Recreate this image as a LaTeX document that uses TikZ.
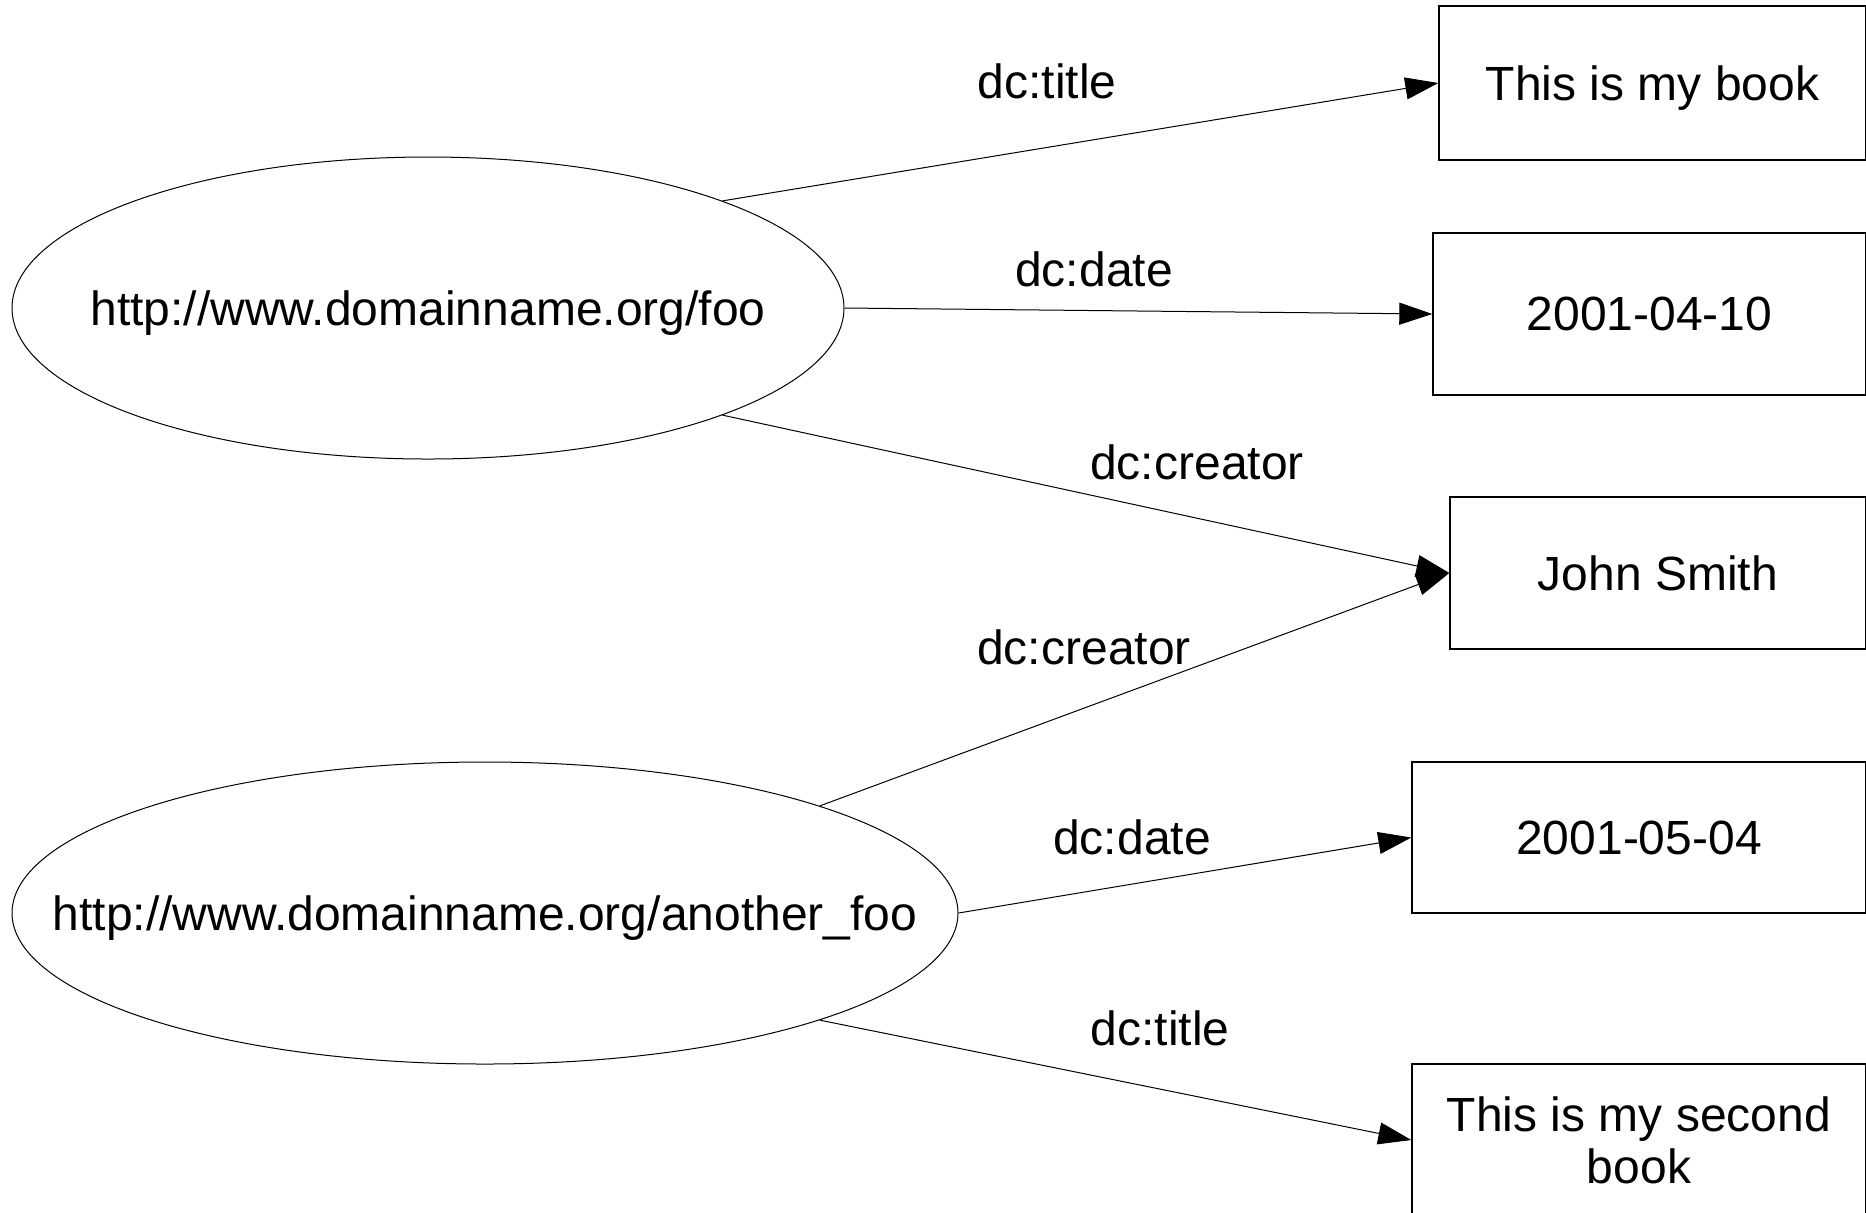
\documentclass[tikz,border=0pt]{standalone}
\usepackage{fontspec}
\setmainfont{Liberation Sans}
\usetikzlibrary{shapes.geometric,arrows.meta}
\begin{document}
\begin{tikzpicture}[x=0.5pt,y=-0.5pt,
  every node/.style={font=\fontsize{24}{26}\selectfont},
  res/.style={draw, ellipse, inner sep=0pt, line width=0.5pt},
  lit/.style={draw, rectangle, inner sep=0pt, line width=0.7pt, align=center},
  prop/.style={inner sep=0pt},
  arc/.style={-{Triangle[length=16.5pt,width=11pt]}, line width=0.5pt},
]
\fill[white] (0,0) rectangle (1866,1212);
\useasboundingbox (0,0) rectangle (1866,1212);

% resources
\node[res, minimum width=416pt, minimum height=151pt] (foo) at (428,308) {};
\node[yshift=-2.5pt] (footext) at (foo.center) {http://www.domainname.org/foo};
\node[res, minimum width=473pt, minimum height=151pt] (afoo) at (485,913) {};
\node[yshift=-2.5pt] (afootext) at (afoo.center) {http://www.domainname.org/another\_foo};

% literals
\node[lit, minimum width=213.5pt, minimum height=77pt] (title1) at (1652.5,83) {};
\node[yshift=-2.5pt] (title1text) at (title1.center) {This is my book};
\node[lit, minimum width=216.5pt, minimum height=81pt] (date1) at (1649.5,314) {2001-04-10};
\node[lit, minimum width=208pt, minimum height=76pt] (smith) at (1658,573) {John Smith};
\node[lit, minimum width=227pt, minimum height=75.5pt] (date2) at (1639,837.5) {2001-05-04};
\node[lit, minimum width=227pt, minimum height=76pt] (title2) at (1639,1140) {This is my second\\book};

% properties
\draw[arc] (foo.north east) -- (title1.west);
\draw[arc] (foo.east) -- (date1.west);
\draw[arc] (foo.south east) -- (smith.west);
\draw[arc] (afoo.north east) -- (smith.west);
\draw[arc] (afoo.east) -- (date2.west);
\draw[arc] (afoo.south east) -- (title2.west);

% property labels
\node[prop] (l1) at (1047,81) {dc:title};
\node[prop] (l2) at (1094,269) {dc:date};
\node[prop] (l3) at (1197,462) {dc:creator};
\node[prop] (l4) at (1084,647) {dc:creator};
\node[prop] (l5) at (1132,837) {dc:date};
\node[prop] (l6) at (1160,1028) {dc:title};
\end{tikzpicture}
\end{document}
